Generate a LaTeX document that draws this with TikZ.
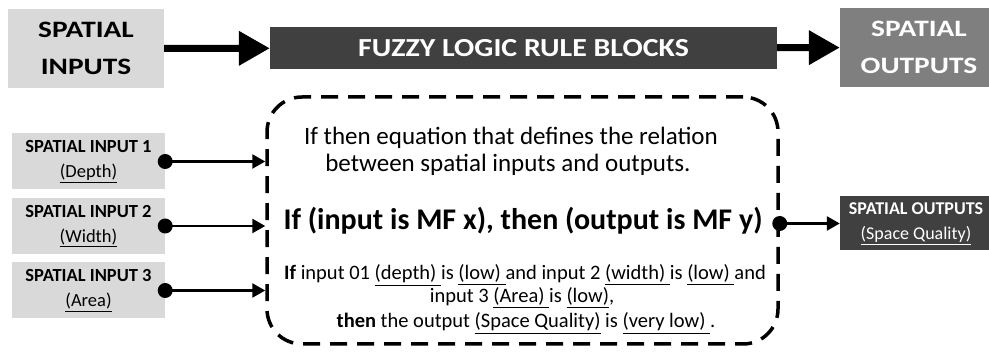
\documentclass[tikz,border=0pt]{standalone}
\usepackage{fontspec}
\setmainfont{Carlito}
\newfontfamily\widefont[FakeStretch=1.25]{Carlito}
\newfontfamily\fuzzyfont[FakeStretch=1.15]{Carlito}
\usetikzlibrary{arrows.meta}
\definecolor{lightbox}{HTML}{D9D9D9}
\definecolor{darkbox}{HTML}{404040}
\definecolor{midbox}{HTML}{7F7F7F}
\newcommand{\ul}[1]{\underline{#1}}

\begin{document}
\begin{tikzpicture}[x=1pt, y=-1pt,
  bigbox/.style={minimum height=79pt, align=center, inner sep=0pt,
    font=\widefont\bfseries\fontsize{23.5}{37}\selectfont},
  inbox/.style={fill=lightbox, minimum width=153pt, minimum height=56pt, align=center, inner sep=0pt,
    font=\bfseries\fontsize{18.5}{25}\selectfont},
  ruletext/.style={anchor=base, font=\fontsize{25}{29}\selectfont},
  smalltext/.style={anchor=base, font=\fontsize{20.5}{24}\selectfont},
  bigarrow/.style={line width=7pt, -{Triangle[length=31pt, width=33pt]}},
  smallarrow/.style={line width=2.5pt, -{Triangle[length=13pt, width=14pt]}}]
  \useasboundingbox[fill=white] (0,0) rectangle (989,352);

  % top row
  \node[bigbox, fill=lightbox, minimum width=156pt] (sin) at (86,48.5) {SPATIAL\\INPUTS};
  \node[fill=darkbox, text=white, minimum width=507pt, minimum height=42pt, inner sep=0pt,
    font=\fuzzyfont\bfseries\fontsize{26}{30}\selectfont] (fuzzy) at (523.5,48) {FUZZY LOGIC RULE BLOCKS};
  \node[bigbox, fill=midbox, text=white, minimum width=158pt] (sout) at (919,47.5) {SPATIAL\\OUTPUTS};
  \draw[bigarrow] (sin) -- (fuzzy);
  \draw[bigarrow] (fuzzy) -- (sout);

  % rule block
  \node[draw, line width=3.5pt, dash pattern=on 17pt off 10pt, rounded corners=35pt,
    minimum width=511pt, minimum height=247pt] (rules) at (522.5,220.5) {};
  \node[ruletext] (what1) at (511,145) {If then equation that defines the relation};
  \node[ruletext] (what2) at (508,172) {between spatial inputs and outputs.};
  \node[anchor=base, font=\bfseries\fontsize{30}{34}\selectfont] (rule) at (523,230)
    {If (input is MF x), then (output is MF y)};
  \node[smalltext] (ex1) at (525,280)
    {\textbf{If} input 01 \ul{(depth)~}is \ul{(low)~}and input 2 \ul{(width)~}is \ul{(low)~}and};
  \node[smalltext] (ex2) at (522,303) {input 3 \ul{(Area)~}is \ul{(low)},};
  \node[smalltext] (ex3) at (526,328)
    {\textbf{then} the output \ul{(Space Quality)}~is \ul{(very low)~}.};

  % inputs
  \node[inbox] (in1) at (88.5,161.5) {SPATIAL INPUT 1\\\mdseries\ul{(Depth)}};
  \node[inbox] (in2) at (88.5,226) {SPATIAL INPUT 2\\\mdseries\ul{(Width)}};
  \node[inbox] (in3) at (88.5,290.5) {SPATIAL INPUT 3\\\mdseries\ul{(Area)}};
  \foreach \i in {1,2,3} {
    \fill (in\i.east) circle[radius=7.5pt];
    \draw[smallarrow] (in\i.east) -- (rules.west |- in\i.east);
  }

  % output
  \node[fill=darkbox, text=white, minimum width=152pt, minimum height=54pt, align=center, inner sep=0pt,
    font=\bfseries\fontsize{18}{25}\selectfont] (outq) at (916,223.5)
    {SPATIAL OUTPUTS\\\mdseries\ul{(Space Quality)}};
  \fill (rules.east |- outq.west) circle[radius=7.5pt];
  \draw[smallarrow] (rules.east |- outq.west) -- (outq.west);
\end{tikzpicture}
\end{document}
